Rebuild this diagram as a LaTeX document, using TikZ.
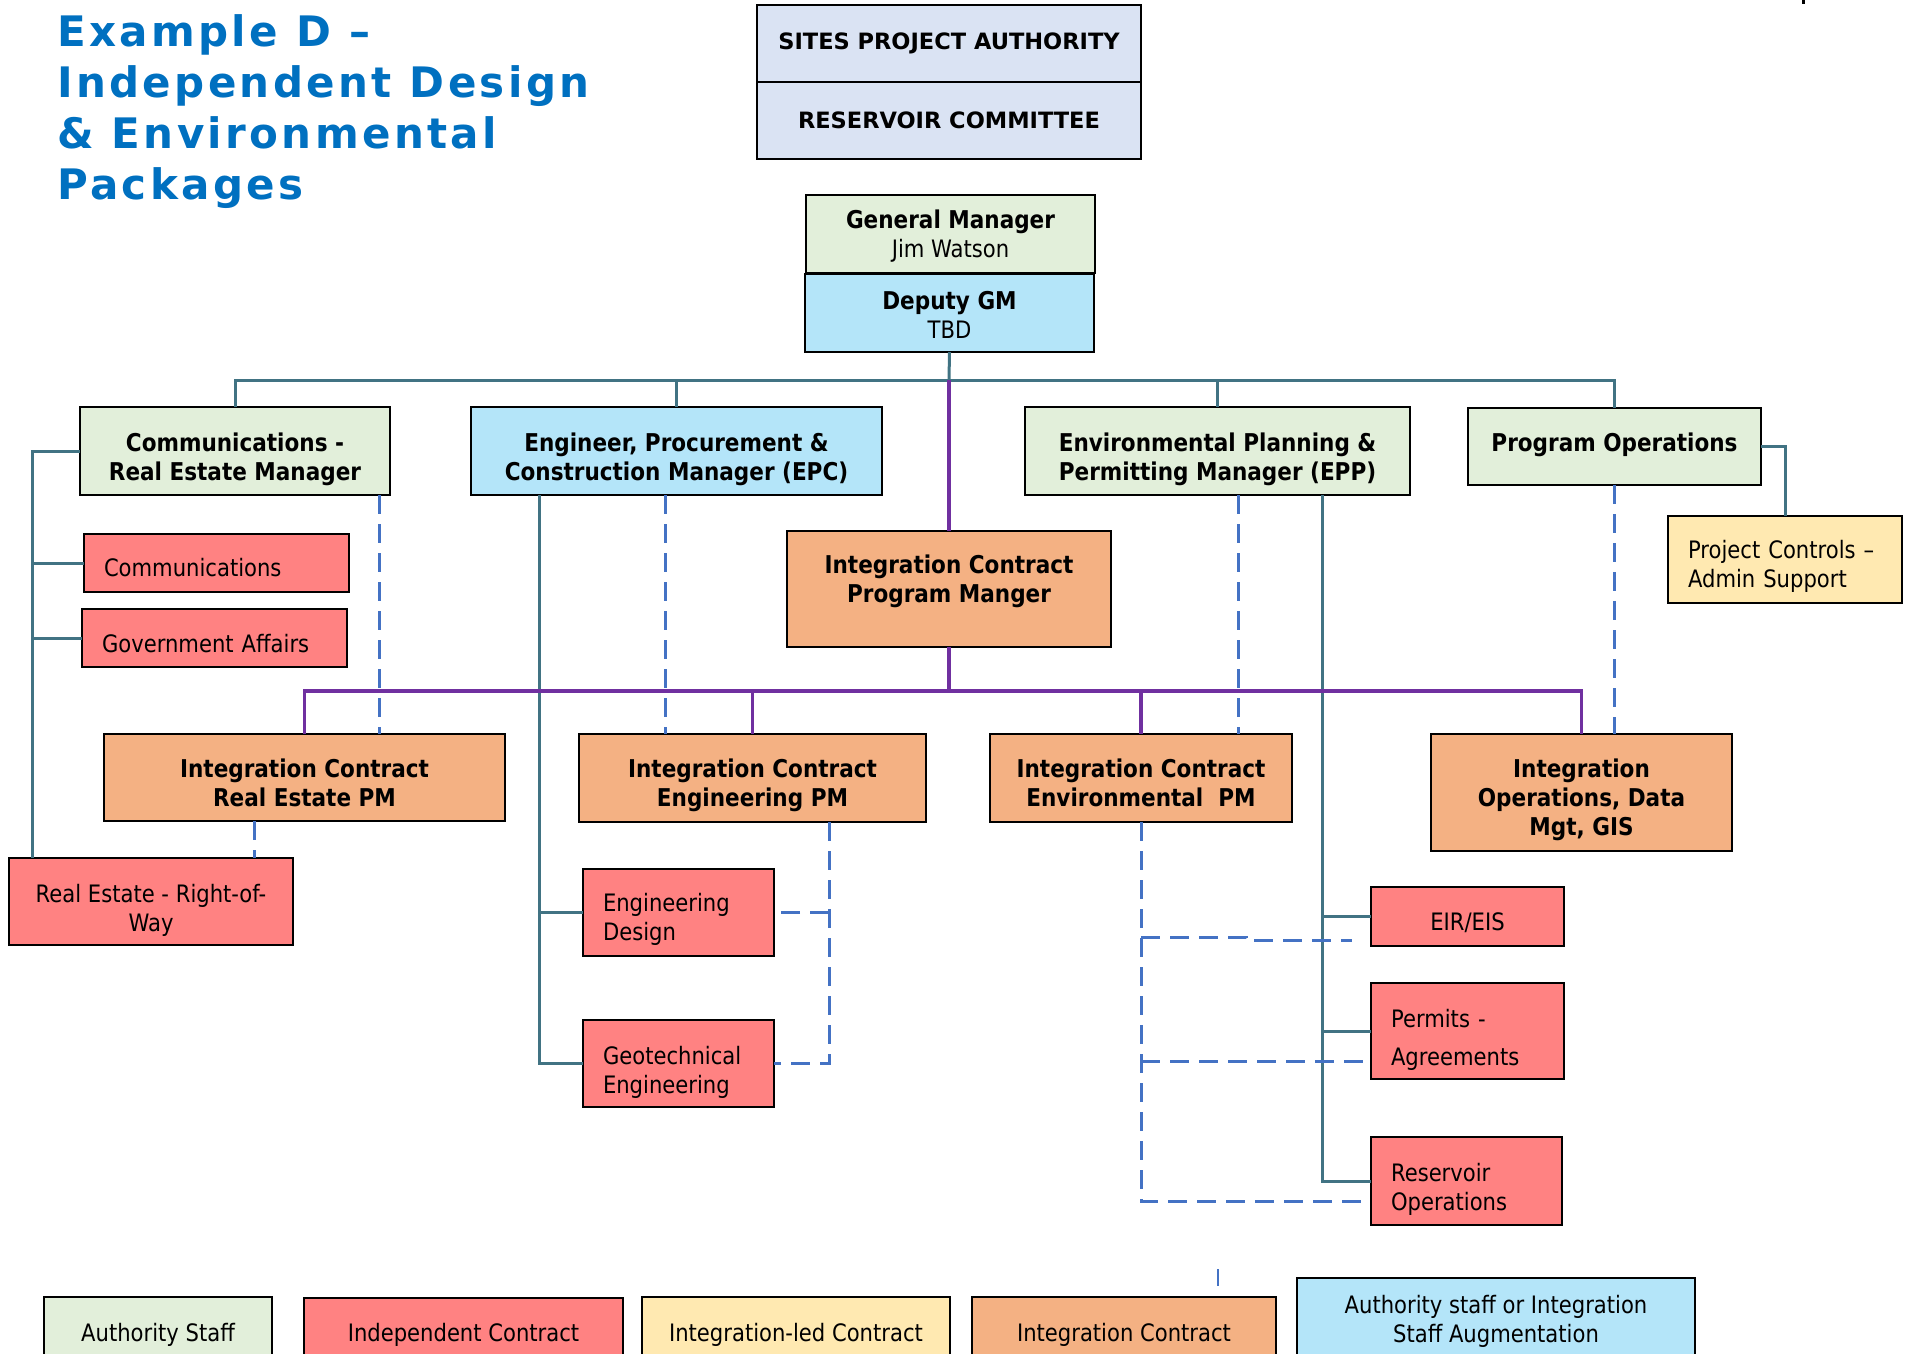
\documentclass[tikz,border=0pt]{standalone}
\usepackage{fontspec}
\setmainfont{DejaVu Sans}[FakeStretch=0.88]
\newfontfamily\headfont{DejaVu Sans}[LetterSpace=8]
\newfontfamily\capfont{DejaVu Sans}
\usetikzlibrary{calc}

\definecolor{titleblue}{HTML}{0070C0}
\definecolor{boardfill}{HTML}{DAE3F3}
\definecolor{staffgreen}{HTML}{E2EFDA}
\definecolor{augblue}{HTML}{B4E5F9}
\definecolor{intorange}{HTML}{F4B183}
\definecolor{indred}{HTML}{FF8282}
\definecolor{ledyellow}{HTML}{FFE9B1}
\definecolor{linkteal}{HTML}{417383}
\definecolor{linkpurple}{HTML}{7030A0}
\definecolor{linkblue}{HTML}{4472C4}

\tikzset{
  box/.style={draw=black, line width=2.7pt, anchor=north west, inner sep=0pt,
    outer sep=0pt},
  txt/.style={inner sep=0pt, align=center},
  boldtxt/.style={txt, font=\fontsize{24.5}{29}\selectfont\bfseries},
  plaintxt/.style={txt, font=\fontsize{24}{29}\selectfont},
  capstxt/.style={txt, font=\capfont\fontsize{22.5}{27}\selectfont\bfseries},
  lefttxt/.style={align=left, text width=#1},
  green/.style={fill=staffgreen},
  cyanbox/.style={fill=augblue},
  orangebox/.style={fill=intorange},
  redbox/.style={fill=indred},
  yellowbox/.style={fill=ledyellow},
  boardbox/.style={fill=boardfill},
  tealline/.style={draw=linkteal, line width=3pt},
  purpline/.style={draw=linkpurple, line width=3.6pt},
  dashline/.style={draw=linkblue, line width=3pt, dash pattern=on 19pt off 10pt},
}

% #1 name, #2 box style, #3 text style, #4,#5 top-left corner,
% #6 width, #7 height, #8 vertical text offset, #9 text
\newcommand\orgnode[9]{%
  \node[box, #2, minimum width=#6pt, minimum height=#7pt] (#1) at (#4,#5) {};
  \node[#3] (#1-t) at ([yshift=#8pt]#1.center) {#9};
}

\begin{document}
\begin{tikzpicture}[x=1pt, y=-1pt]
\useasboundingbox (0,0) rectangle (1914,1354);
\clip (0,0) rectangle (1914,1354);

% heading
\node[anchor=north west, inner sep=0pt, align=left, text=titleblue,
  font=\headfont\fontsize{42}{50.8}\selectfont\bfseries] (title) at (57,14.8)
  {Example D –\\Independent Design\\\& Environmental\\Packages};

% governing boards
\orgnode{spa}{boardbox}{capstxt}{757}{5}{384}{77}{0}{SITES PROJECT AUTHORITY}
\orgnode{rc}{boardbox}{capstxt}{757}{82}{384}{77}{0}{RESERVOIR COMMITTEE}

% management
\orgnode{gm}{green}{plaintxt}{806}{195}{289}{78}{-2}
  {{\fontsize{24.5}{29}\selectfont\bfseries General Manager}\\Jim Watson}
\orgnode{dgm}{cyanbox}{plaintxt}{805}{274}{289}{78}{-2}
  {{\fontsize{24.5}{29}\selectfont\bfseries Deputy GM}\\TBD}

\orgnode{crem}{green}{boldtxt}{80}{407}{310}{88}{-8.5}{Communications -\\Real Estate Manager}
\orgnode{epc}{cyanbox}{boldtxt}{471}{407}{411}{88}{-8.5}{Engineer, Procurement \&\\Construction Manager (EPC)}
\orgnode{epp}{green}{boldtxt}{1025}{407}{385}{88}{-8.5}{Environmental Planning \&\\Permitting Manager (EPP)}
\orgnode{po}{green}{boldtxt}{1468}{408}{293}{77}{2}{Program Operations}
\orgnode{pc}{yellowbox}{plaintxt, lefttxt=194pt}{1668}{516}{234}{87}{-7}{Project Controls –\\Admin Support}

\orgnode{icpm}{orangebox}{boldtxt}{787}{531}{324}{116}{7.5}{Integration Contract\\Program Manger}
\orgnode{icre}{orangebox}{boldtxt}{104}{734}{401}{87}{-5}{Integration Contract\\Real Estate PM}
\orgnode{iceng}{orangebox}{boldtxt}{579}{734}{347}{88}{-7}{Integration Contract\\Engineering PM}
\orgnode{icenv}{orangebox}{boldtxt}{990}{734}{302}{88}{-5}{Integration Contract\\Environmental\ \ PM}
\orgnode{iops}{orangebox}{boldtxt}{1431}{734}{301}{117}{-7}{Integration\\Operations, Data\\Mgt, GIS}

% independent contracts
\orgnode{comm}{redbox}{plaintxt, lefttxt=225pt}{84}{534}{265}{58}{-5}{Communications}
\orgnode{gov}{redbox}{plaintxt, lefttxt=225pt}{82}{609}{265}{58}{-6}{Government Affairs}
\orgnode{rerow}{redbox}{plaintxt}{9}{858}{284}{87}{-8.5}{Real Estate - Right-of-\\Way}
\orgnode{engd}{redbox}{plaintxt, lefttxt=151pt}{583}{869}{191}{87}{-7}{Engineering\\Design}
\orgnode{geo}{redbox}{plaintxt, lefttxt=151pt}{583}{1020}{191}{87}{-8.5}{Geotechnical\\Engineering}
\orgnode{eir}{redbox}{plaintxt}{1371}{887}{193}{59}{-6}{EIR/EIS}
\orgnode{perm}{redbox}{plaintxt, lefttxt=153pt}{1371}{983}{193}{96}{-8.5}{Permits -\\[9pt]Agreements}
\orgnode{res}{redbox}{plaintxt, lefttxt=151pt}{1371}{1137}{191}{88}{-8.5}{Reservoir\\Operations}

% key
\orgnode{key-as}{green}{plaintxt}{44}{1297}{228}{75}{0}{Authority Staff}
\orgnode{key-ic}{redbox}{plaintxt}{304}{1298}{319}{74}{0}{Independent Contract}
\orgnode{key-il}{yellowbox}{plaintxt}{642}{1297}{308}{75}{0}{Integration-led Contract}
\orgnode{key-int}{orangebox}{plaintxt}{972}{1297}{304}{75}{0}{Integration Contract}
\orgnode{key-aug}{cyanbox}{plaintxt}{1297}{1278}{398}{94}{4}{Authority staff or Integration\\Staff Augmentation}

% helper positions for vertical runs
\coordinate (tbar) at (949,380);
\coordinate (pbar) at (949,691);
\coordinate (x32) at (32,0);
\coordinate (x254) at (254,0);
\coordinate (x379) at (379,0);
\coordinate (x539) at (539,0);
\coordinate (x665) at (665,0);
\coordinate (x829) at (829,0);
\coordinate (x1238) at (1238,0);
\coordinate (x1322) at (1322,0);

% authority reporting lines
\draw[tealline] (dgm.south) -- (tbar);
\draw[tealline] (crem.north) -- (crem.north |- tbar) -- (po.north |- tbar) -- (po.north);
\draw[tealline] (epc.north |- tbar) -- (epc.north);
\draw[tealline] (epp.north |- tbar) -- (epp.north);
\draw[tealline] (crem.west) -- (x32 |- crem.west) -- (x32 |- rerow.north);
\draw[tealline] (x32 |- comm.west) -- (comm.west);
\draw[tealline] (x32 |- gov.west) -- (gov.west);
\draw[tealline] (x539 |- epc.south) -- (x539 |- geo.west) -- (geo.west);
\draw[tealline] (x539 |- engd.west) -- (engd.west);
\draw[tealline] (x1322 |- epp.south) -- (x1322 |- res.west) -- (res.west);
\draw[tealline] (x1322 |- eir.west) -- (eir.west);
\draw[tealline] (x1322 |- perm.west) -- (perm.west);
\draw[tealline] (po.east) -| (pc.north);

% integration contract lines
\draw[purpline] (tbar) -- (icpm.north);
\draw[purpline] (icpm.south) -- (pbar);
\draw[purpline] (icre.north) -- (icre.north |- pbar) -- (iops.north |- pbar) -- (iops.north);
\draw[purpline] (iceng.north |- pbar) -- (iceng.north);
\draw[purpline] (icenv.north |- pbar) -- (icenv.north);

% coordination lines
\draw[dashline] (x379 |- crem.south) -- (x379 |- icre.north);
\draw[dashline] (x254 |- icre.south) -- (x254 |- rerow.north);
\draw[dashline] (x665 |- epc.south) -- (x665 |- iceng.north);
\draw[dashline] (x829 |- iceng.south) -- (x829 |- geo.east) -- (geo.east);
\draw[dashline] (x829 |- engd.east) -- (engd.east);
\draw[dashline] (x1238 |- epp.south) -- (x1238 |- icenv.north);
\draw[dashline] (po.south) -- (po.south |- iops.north);

\coordinate (env-a) at (1141,937);
\coordinate (env-a2) at (1246,937);
\coordinate (env-a3) at (1246,940);
\coordinate (env-a4) at (1352,940);
\coordinate (env-b) at (1141,1061);
\coordinate (env-b2) at (1367,1061);
\coordinate (env-c) at (1141,1201);
\coordinate (env-c2) at (1367,1201);
\draw[dashline] (icenv.south) -- (env-c) -- (env-c2);
\draw[dashline] (env-a) -- (env-a2) -- (env-a3) -- (env-a4);
\draw[dashline] (env-b) -- (env-b2);

% stray marks along the edges
\coordinate (tick-a) at (1218,1269);
\coordinate (tick-b) at (1218,1286);
\draw[draw=linkblue, line width=1.4pt] (tick-a) -- (tick-b);
\fill[black] (1802,0) rectangle (1805,4);
\end{tikzpicture}
\end{document}
